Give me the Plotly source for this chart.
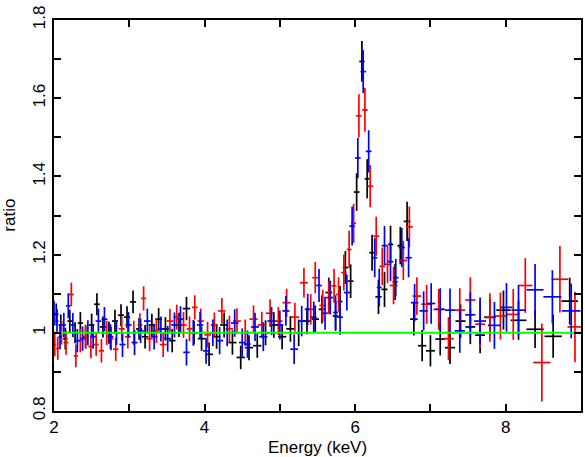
import numpy as np
import plotly.graph_objects as go

# dataset 1 (black)
e_black = [2.03, 2.09, 2.15, 2.21, 2.28, 2.35, 2.42, 2.50, 2.57, 2.65,
           2.73, 2.81, 2.89, 2.97, 3.05, 3.13, 3.21, 3.30, 3.39, 3.48,
           3.57, 3.66, 3.76, 3.86, 3.96, 4.06, 4.16, 4.26, 4.37, 4.48,
           4.59, 4.70, 4.81, 4.92, 5.03, 5.14, 5.25, 5.36, 5.47, 5.56,
           5.65, 5.74, 5.80, 5.87, 5.94, 6.02, 6.09, 6.16, 6.225, 6.31,
           6.39, 6.47, 6.53, 6.60, 6.69, 6.78, 6.89, 7.00, 7.13, 7.26,
           7.40, 7.53, 7.66, 7.79, 7.97, 8.17, 8.39, 8.63, 8.85]
r_black = [1.047, 1.020, 0.985, 1.030, 1.000, 1.025, 0.990, 1.020, 1.073, 1.015,
           1.000, 1.030, 1.045, 1.040, 1.079, 1.010, 0.990, 1.020, 1.035, 1.010,
           0.980, 1.020, 1.062, 1.000, 0.985, 0.945, 0.990, 1.020, 0.975, 0.937,
           0.962, 0.967, 1.000, 1.020, 0.990, 1.010, 1.000, 1.030, 1.035, 1.060,
           1.103, 1.043, 1.080, 1.167, 1.132, 1.360, 1.694, 1.394, 1.205, 1.092,
           1.111, 1.226, 1.130, 1.223, 1.285, 1.035, 0.967, 0.954, 0.984, 0.962,
           1.030, 1.015, 0.994, 1.040, 1.058, 1.032, 1.009, 0.991, 1.081]
s_black = [0.028, 0.027, 0.028, 0.029, 0.027, 0.028, 0.028, 0.029, 0.028, 0.027,
           0.028, 0.029, 0.028, 0.028, 0.029, 0.028, 0.030, 0.029, 0.028, 0.030,
           0.030, 0.031, 0.030, 0.030, 0.031, 0.030, 0.031, 0.032, 0.031, 0.030,
           0.032, 0.031, 0.032, 0.033, 0.032, 0.033, 0.034, 0.034, 0.035, 0.036,
           0.038, 0.038, 0.040, 0.042, 0.043, 0.048, 0.052, 0.050, 0.046, 0.044,
           0.045, 0.048, 0.046, 0.048, 0.050, 0.042, 0.040, 0.040, 0.042, 0.042,
           0.043, 0.044, 0.046, 0.047, 0.050, 0.050, 0.048, 0.055, 0.060]

# dataset 2 (red)
e_red = [2.01, 2.05, 2.10, 2.16, 2.23, 2.29, 2.35, 2.42, 2.49, 2.56,
         2.63, 2.70, 2.76, 2.82, 2.90, 2.98, 3.06, 3.14, 3.19, 3.27,
         3.36, 3.45, 3.54, 3.63, 3.72, 3.80, 3.87, 3.95, 4.04, 4.13,
         4.23, 4.33, 4.43, 4.54, 4.65, 4.76, 4.87, 4.98, 5.09, 5.20,
         5.32, 5.41, 5.47, 5.57, 5.65, 5.72, 5.78, 5.85, 5.92, 5.98,
         6.05, 6.13, 6.20, 6.28, 6.36, 6.43, 6.51, 6.64, 6.72, 6.82,
         6.95, 7.11, 7.24, 7.39, 7.53, 7.66, 7.79, 7.93, 8.10, 8.26,
         8.48, 8.72, 8.92]
r_red = [0.970, 0.960, 1.000, 0.975, 1.098, 0.941, 0.980, 0.990, 0.965, 0.970,
         0.954, 1.000, 0.985, 0.958, 1.010, 0.990, 1.000, 1.020, 1.088, 0.985,
         1.005, 0.970, 1.030, 1.040, 1.020, 1.010, 1.065, 1.030, 0.995, 1.020,
         1.056, 1.010, 1.030, 1.000, 1.035, 1.020, 1.050, 1.030, 1.077, 1.040,
         1.128, 1.060, 1.141, 1.070, 1.090, 1.120, 1.098, 1.154, 1.213, 1.280,
         1.555, 1.570, 1.375, 1.247, 1.170, 1.175, 1.121, 1.185, 1.271, 1.094,
         1.073, 1.060, 0.985, 1.058, 1.084, 1.022, 1.039, 1.043, 1.047, 1.121,
         0.924, 1.137, 1.015]
s_red = [0.030, 0.029, 0.030, 0.031, 0.030, 0.029, 0.030, 0.031, 0.030, 0.029,
         0.030, 0.031, 0.030, 0.030, 0.031, 0.030, 0.031, 0.030, 0.031, 0.032,
         0.031, 0.032, 0.031, 0.032, 0.033, 0.032, 0.031, 0.032, 0.033, 0.032,
         0.033, 0.034, 0.033, 0.034, 0.035, 0.034, 0.035, 0.036, 0.036, 0.037,
         0.038, 0.039, 0.040, 0.040, 0.042, 0.043, 0.044, 0.046, 0.048, 0.050,
         0.055, 0.056, 0.054, 0.050, 0.048, 0.048, 0.048, 0.050, 0.052, 0.048,
         0.050, 0.052, 0.055, 0.056, 0.058, 0.060, 0.062, 0.060, 0.065, 0.070,
         0.100, 0.085, 0.090]

# dataset 3 (blue)
e_blue = [2.00, 2.04, 2.08, 2.13, 2.19, 2.25, 2.31, 2.38, 2.45, 2.52,
          2.59, 2.67, 2.75, 2.83, 2.91, 2.99, 3.07, 3.15, 3.24, 3.33,
          3.42, 3.51, 3.60, 3.68, 3.76, 3.85, 3.94, 4.02, 4.11, 4.20,
          4.30, 4.40, 4.50, 4.57, 4.67, 4.78, 4.89, 5.00, 5.08, 5.19,
          5.29, 5.37, 5.45, 5.52, 5.60, 5.67, 5.74, 5.80, 5.89, 5.96,
          6.036, 6.107, 6.18, 6.26, 6.32, 6.39, 6.47, 6.54, 6.62, 6.71,
          6.79, 6.91, 7.01, 7.13, 7.26, 7.39, 7.53, 7.66, 7.85, 8.01,
          8.17, 8.39, 8.62, 8.87]
r_blue = [1.050, 1.030, 0.990, 1.020, 1.069, 1.020, 0.980, 0.985, 1.000, 0.990,
          1.030, 1.035, 0.990, 1.000, 0.970, 1.020, 0.975, 1.005, 1.030, 0.990,
          1.010, 0.985, 1.020, 1.035, 0.950, 1.000, 1.020, 0.954, 1.000, 0.980,
          1.000, 1.025, 0.975, 0.971, 1.015, 0.990, 1.030, 1.020, 1.056, 0.958,
          1.030, 1.060, 1.040, 1.121, 1.050, 1.090, 1.052, 1.040, 1.103, 1.273,
          1.447, 1.668, 1.464, 1.192, 1.116, 1.223, 1.182, 1.141, 1.218, 1.192,
          1.077, 1.056, 1.075, 1.060, 1.058, 1.005, 1.046, 1.030, 1.019, 1.065,
          1.058, 1.110, 1.092, 1.056]
s_blue = [0.032, 0.031, 0.032, 0.031, 0.032, 0.031, 0.030, 0.031, 0.032, 0.031,
          0.032, 0.031, 0.032, 0.031, 0.032, 0.033, 0.032, 0.031, 0.032, 0.033,
          0.032, 0.033, 0.032, 0.033, 0.034, 0.033, 0.034, 0.033, 0.034, 0.035,
          0.034, 0.035, 0.036, 0.035, 0.036, 0.037, 0.036, 0.037, 0.038, 0.038,
          0.039, 0.040, 0.040, 0.042, 0.042, 0.043, 0.044, 0.045, 0.046, 0.050,
          0.052, 0.055, 0.054, 0.050, 0.048, 0.050, 0.050, 0.048, 0.050, 0.050,
          0.048, 0.050, 0.052, 0.054, 0.055, 0.056, 0.058, 0.060, 0.060, 0.062,
          0.064, 0.066, 0.068, 0.070]

model_x = [2, 9]
model_y = [1, 1]

datasets = [(e_black, r_black, s_black, "black"),
            (e_red, r_red, s_red, "#ff0000"),
            (e_blue, r_blue, s_blue, "#0000ff")]

fig = go.Figure()
for e, r, s, col in datasets:
    e = np.array(e)
    # contiguous channels: half bin width from neighbour spacing
    half = np.gradient(e) / 2
    fig.add_trace(go.Scatter(
        x=e, y=r, mode="markers",
        marker=dict(size=0.1, color=col),
        error_x=dict(type="data", array=half, color=col, thickness=1.7, width=0),
        error_y=dict(type="data", array=s, color=col, thickness=1.7, width=0),
        showlegend=False, hoverinfo="x+y"
    ))

fig.add_trace(go.Scatter(x=model_x, y=model_y, mode="lines",
                         line=dict(color="#00ff00", width=2), showlegend=False))

axis_common = dict(showline=True, linecolor="black", linewidth=1.5, mirror="allticks",
                   ticks="inside", ticklen=7, tickwidth=1.5, tickcolor="black",
                   showgrid=False, zeroline=False,
                   tickfont=dict(size=17, color="black"))

fig.update_layout(
    width=585, height=457,
    margin=dict(l=54, r=2, t=20, b=45),
    paper_bgcolor="white", plot_bgcolor="white",
    font=dict(family="Liberation Sans, Arial, sans-serif", size=17, color="black"),
    xaxis=dict(range=[2, 9], tickvals=[2, 3, 4, 5, 6, 7, 8, 9],
               ticktext=["2", "", "4", "", "6", "", "8", ""],
               title=dict(text="Energy (keV)", standoff=6, font=dict(size=17)),
               **axis_common),
    yaxis=dict(range=[0.8, 1.8],
               tickvals=[0.8, 0.9, 1.0, 1.1, 1.2, 1.3, 1.4, 1.5, 1.6, 1.7, 1.8],
               ticktext=["0.8", "", "1", "", "1.2", "", "1.4", "", "1.6", "", "1.8"],
               tickangle=-90,
               **axis_common),
    annotations=[dict(text="ratio", xref="paper", yref="paper",
                      x=(9 - 54) / 529, y=0.5, textangle=-90, showarrow=False,
                      font=dict(size=17), xanchor="center", yanchor="middle")],
)

fig.write_html("out.html", config={"displayModeBar": False},
               post_script="document.body.style.margin='0';")
